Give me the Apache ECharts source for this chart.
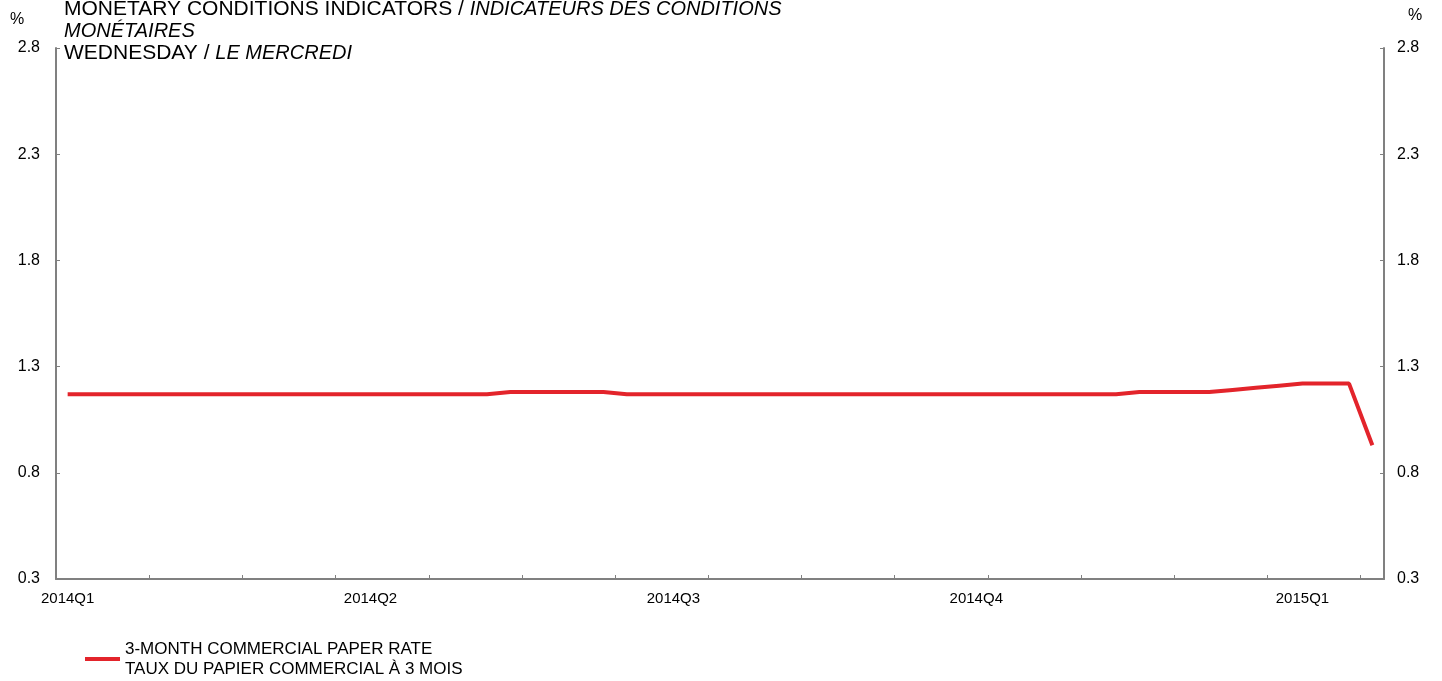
<!DOCTYPE html>
<html>
<head>
<meta charset="utf-8">
<script src="https://cdn.jsdelivr.net/npm/echarts@6/dist/echarts.min.js"></script>
<style>
html,body{margin:0;padding:0;background:#fff;}
#chart{width:1442px;height:681px;}
</style>
</head>
<body>
<div id="chart"></div>
<script>
// Weekly (Wednesday) observations
const weeks = [
  '2014-01-01','2014-01-08','2014-01-15','2014-01-22','2014-01-29',
  '2014-02-05','2014-02-12','2014-02-19','2014-02-26',
  '2014-03-05','2014-03-12','2014-03-19','2014-03-26',
  '2014-04-02','2014-04-09','2014-04-16','2014-04-23','2014-04-30',
  '2014-05-07','2014-05-14','2014-05-21','2014-05-28',
  '2014-06-04','2014-06-11','2014-06-18','2014-06-25',
  '2014-07-02','2014-07-09','2014-07-16','2014-07-23','2014-07-30',
  '2014-08-06','2014-08-13','2014-08-20','2014-08-27',
  '2014-09-03','2014-09-10','2014-09-17','2014-09-24',
  '2014-10-01','2014-10-08','2014-10-15','2014-10-22','2014-10-29',
  '2014-11-05','2014-11-12','2014-11-19','2014-11-26',
  '2014-12-03','2014-12-10','2014-12-17','2014-12-24','2014-12-31',
  '2015-01-07','2015-01-14','2015-01-21','2015-01-28'
];
const cpRate = [
  1.17,1.17,1.17,1.17,1.17,
  1.17,1.17,1.17,1.17,
  1.17,1.17,1.17,1.17,
  1.17,1.17,1.17,1.17,1.17,
  1.17,1.18,1.18,1.18,
  1.18,1.18,1.17,1.17,
  1.17,1.17,1.17,1.17,1.17,
  1.17,1.17,1.17,1.17,
  1.17,1.17,1.17,1.17,
  1.17,1.17,1.17,1.17,1.17,
  1.17,1.17,1.18,1.18,
  1.18,1.18,1.19,1.20,1.21,
  1.22,1.22,1.22,0.93
];
const quarterWeeks = ['2014-01-01','2014-04-02','2014-07-02','2014-10-01','2015-01-07'];
const quarterLabels = ['2014Q1','2014Q2','2014Q3','2014Q4','2015Q1'];
const yTicks = [0.3, 0.8, 1.3, 1.8, 2.3, 2.8];
const seriesName = '3-MONTH COMMERCIAL PAPER RATE\nTAUX DU PAPIER COMMERCIAL À 3 MOIS';

const FONT = 'Liberation Sans, Arial, sans-serif';
const chart = echarts.init(document.getElementById('chart'));
const yAxisCommon = {
  type: 'value',
  min: yTicks[0],
  max: yTicks[yTicks.length - 1],
  interval: 0.5,
  splitLine: { show: false },
  axisLine: { show: true, lineStyle: { color: '#808080', width: 2 } },
  axisTick: { show: true, inside: true, length: 4, lineStyle: { color: '#808080', width: 1 } },
  axisLabel: { color: '#000', fontFamily: FONT, fontSize: 16, formatter: v => v.toFixed(1) }
};
chart.setOption({
  animation: false,
  backgroundColor: '#fff',
  title: {
    left: 59,
    top: -7,
    text: 'MONETARY CONDITIONS INDICATORS / {i|INDICATEURS DES CONDITIONS}\n{i|MONÉTAIRES}\nWEDNESDAY / {i|LE MERCREDI}',
    textStyle: {
      fontFamily: FONT, fontSize: 21, fontWeight: 'normal', color: '#000', lineHeight: 22,
      rich: { i: { fontFamily: FONT, fontSize: 20, fontStyle: 'italic', color: '#000', lineHeight: 22 } }
    }
  },
  graphic: [
    { type: 'text', left: 10, top: 12, style: { text: '%', font: '16px ' + FONT, fill: '#000' } },
    { type: 'text', left: 1408, top: 8, style: { text: '%', font: '16px ' + FONT, fill: '#000' } }
  ],
  grid: { left: 56, right: 58, top: 48, bottom: 102, containLabel: false },
  legend: {
    left: 80,
    top: 624,
    icon: 'rect',
    itemWidth: 35,
    itemHeight: 4,
    data: [seriesName],
    textStyle: { fontFamily: FONT, fontSize: 17, color: '#000', lineHeight: 20, padding: [20, 0, 0, 0] }
  },
  xAxis: {
    type: 'category',
    data: weeks,
    boundaryGap: true,
    axisLine: { lineStyle: { color: '#808080', width: 2 } },
    axisTick: { show: true, inside: true, length: 4, interval: 3, lineStyle: { color: '#808080', width: 1 } },
    axisLabel: {
      interval: (i, v) => quarterWeeks.indexOf(v) >= 0,
      formatter: v => quarterLabels[quarterWeeks.indexOf(v)],
      color: '#000', fontFamily: FONT, fontSize: 15, margin: 12
    }
  },
  yAxis: [
    Object.assign({}, yAxisCommon, { position: 'left', axisLabel: Object.assign({}, yAxisCommon.axisLabel, { margin: 16 }) }),
    Object.assign({}, yAxisCommon, { position: 'right', axisLabel: Object.assign({}, yAxisCommon.axisLabel, { margin: 13 }) })
  ],
  series: [{
    name: seriesName,
    type: 'line',
    data: cpRate,
    symbol: 'none',
    lineStyle: { color: '#e3242b', width: 4 },
    itemStyle: { color: '#e3242b' }
  }]
});
</script>
</body>
</html>
